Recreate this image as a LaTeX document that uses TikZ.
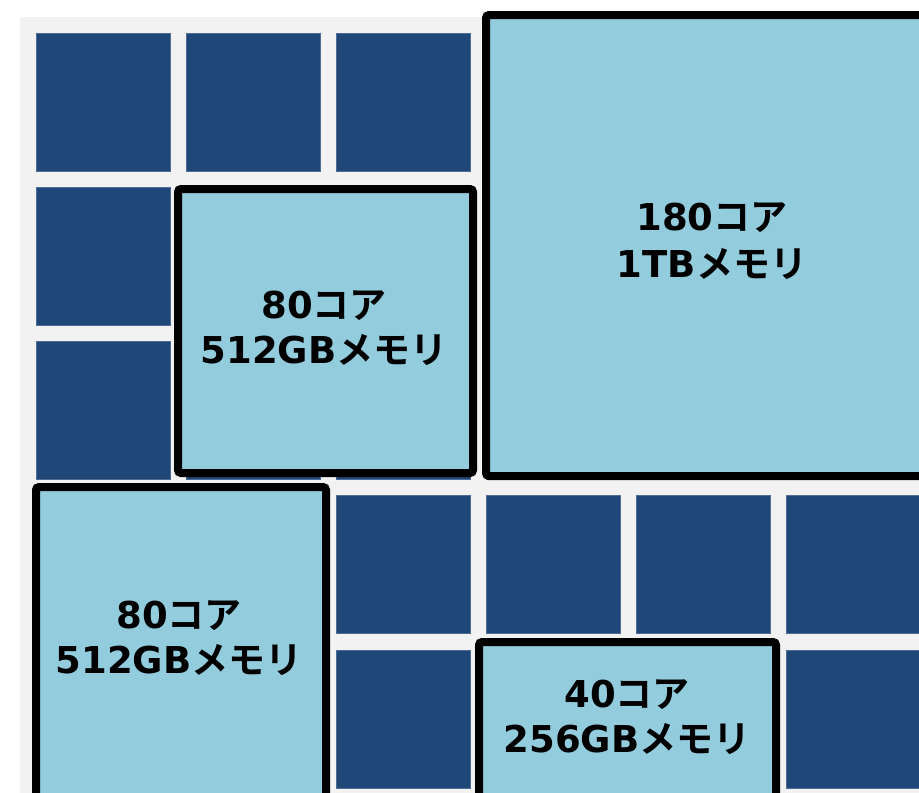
\documentclass[tikz,border=0pt]{standalone}
\usepackage{fontspec}
\newfontfamily\myLatf{DejaVu Sans Bold}
\newfontfamily\myJpf{Noto Sans CJK JP Bold}
\newcommand\myLat[1]{{\myLatf #1}}
\newcommand\myJp[1]{{\myJpf #1}}
\definecolor{bggray}{HTML}{F2F2F2}
\definecolor{celldark}{HTML}{1F4778}
\definecolor{celledge}{HTML}{4E6C94}
\definecolor{boxlight}{HTML}{92CCDD}
\begin{document}
\begin{tikzpicture}[x=1pt,y=-1pt,
  cell/.style={rectangle, fill=celldark, draw=celledge, line width=0.6pt,
    minimum width=134pt, minimum height=138pt, inner sep=0pt, outer sep=0pt},
  bigbox/.style={rectangle, fill=boxlight, draw=black, line width=8pt,
    rounded corners=3pt, inner sep=0pt, outer sep=0pt},
  lbl/.style={anchor=base, inner sep=0pt, font=\fontsize{37}{45}\selectfont, text=black}]
\useasboundingbox (0,0) rectangle (919,793);
\clip (0,0) rectangle (919,793);
\fill[bggray] (20,17) rectangle (940,810);
\foreach \i in {0,...,5}{
  \foreach \j in {0,...,4}{
    \node[cell] (c\i\j) at ({36+150*\i+67},{33+154.25*\j+69}) {};
  }
}
% big boxes
\node[bigbox, minimum width=454pt, minimum height=461pt] (b1) at (713,245.5) {};
\node[bigbox, minimum width=295pt, minimum height=284pt] (b2) at (325.5,331) {};
\node[bigbox, minimum width=290pt, minimum height=320pt] (b3) at (181,647) {};
\node[bigbox, minimum width=297pt, minimum height=170pt] (b4) at (627.5,727) {};
% labels
\node[lbl] (t1a) at (712,230) {\myLat{180}\myJp{コア}};
\node[lbl] (t1b) at (712,277) {\myLat{1TB}\myJp{メモリ}};
\node[lbl] (t2a) at (324,318) {\myLat{80}\myJp{コア}};
\node[lbl] (t2b) at (324,363) {\myLat{512GB}\myJp{メモリ}};
\node[lbl] (t3a) at (179,628) {\myLat{80}\myJp{コア}};
\node[lbl] (t3b) at (179,673) {\myLat{512GB}\myJp{メモリ}};
\node[lbl] (t4a) at (627,707) {\myLat{40}\myJp{コア}};
\node[lbl] (t4b) at (627,752) {\myLat{256GB}\myJp{メモリ}};
\end{tikzpicture}
\end{document}
